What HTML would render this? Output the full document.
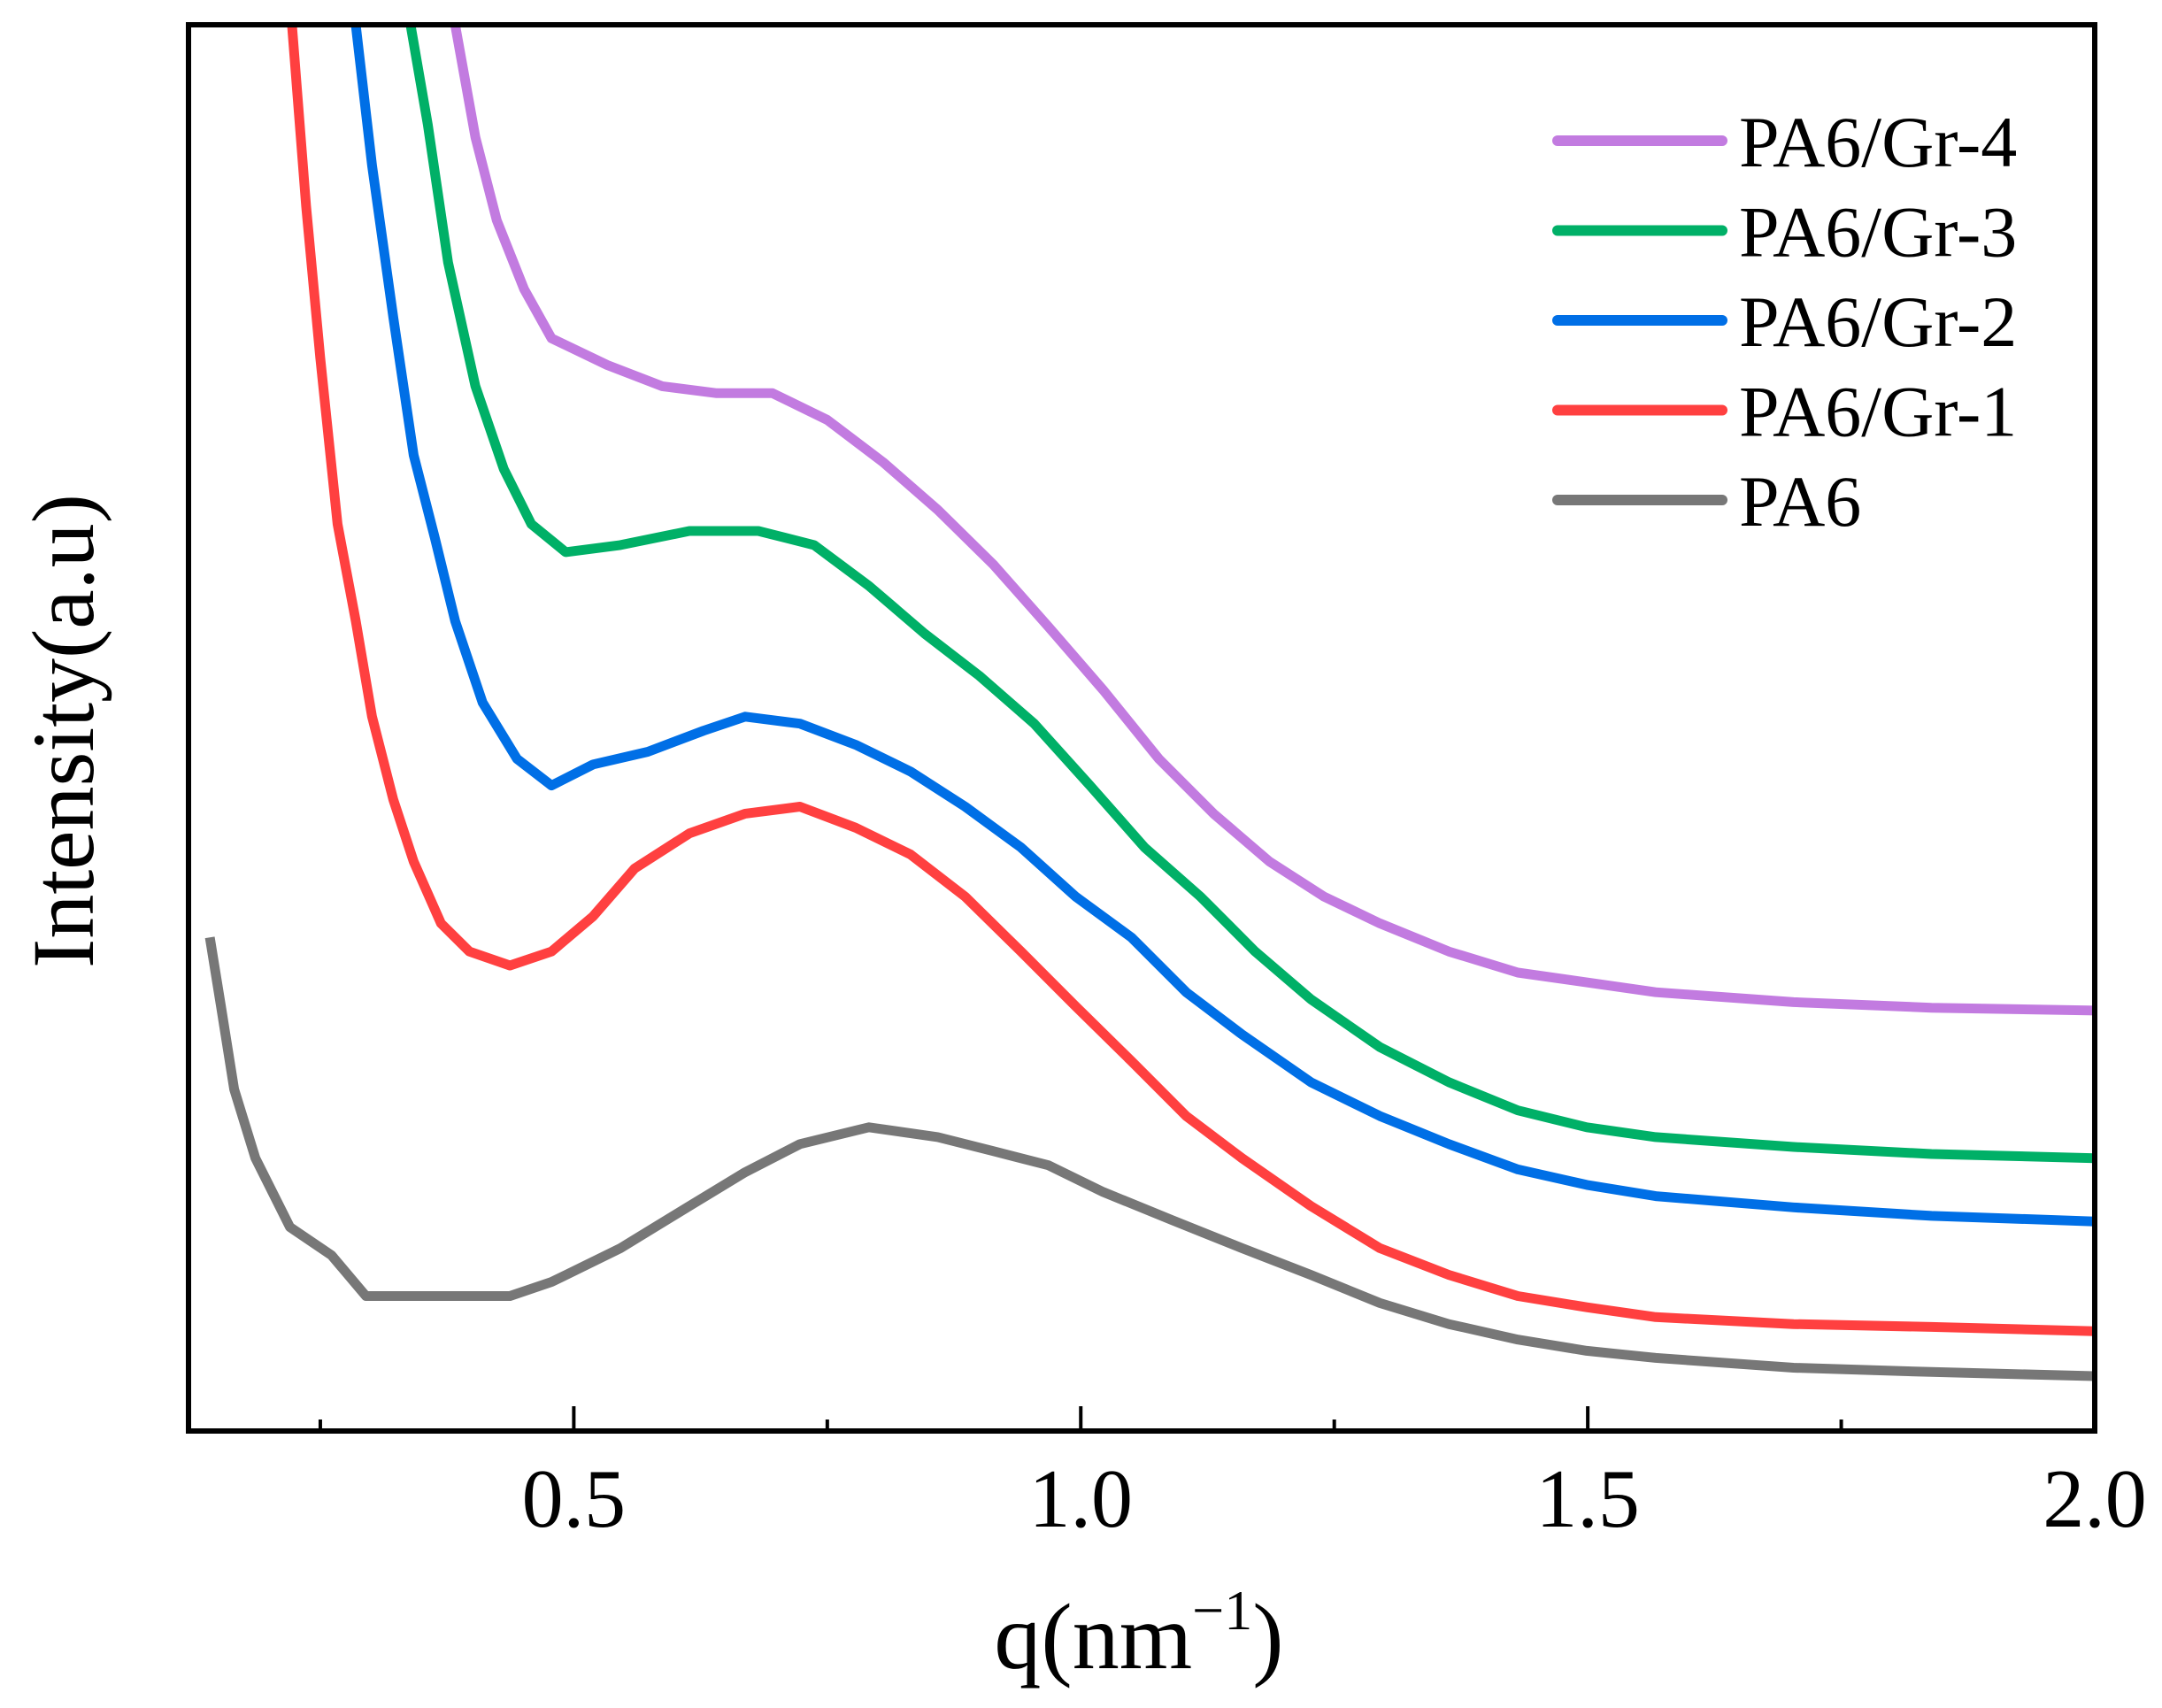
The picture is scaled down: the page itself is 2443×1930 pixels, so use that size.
<!DOCTYPE html>
<html><head><meta charset="utf-8"><style>
html,body{margin:0;padding:0;background:#fff}
svg{display:block}
text{font-family:"Liberation Serif",serif;fill:#000}
</style></head><body>
<svg id="chart" width="2443" height="1930" viewBox="0 0 2443 1930" xmlns="http://www.w3.org/2000/svg">
<defs><clipPath id="clip"><rect x="213" y="28" width="2154" height="1589"/></clipPath></defs>
<g id="series" clip-path="url(#clip)"></g>
<rect x="213" y="28" width="2154" height="1589" fill="none" stroke="#000" stroke-width="6"/>
<g id="ticks"></g>
<text x="1287" y="1885" font-size="106" text-anchor="middle">q(nm<tspan font-size="64" dy="-44">−1</tspan><tspan dy="44">)</tspan></text>
<text transform="translate(105,826) rotate(-90)" font-size="100" text-anchor="middle">Intensity(a.u)</text>
<g id="legend"></g>
</svg>
<script>
const xMin=0.12, xMax=2.0;
const xTickVals=[0.25,0.5,0.75,1.0,1.25,1.5,1.75,2.0];
const xTickLabels=["","0.5","","1.0","","1.5","","2.0"];
const seriesNames=["PA6/Gr-4","PA6/Gr-3","PA6/Gr-2","PA6/Gr-1","PA6"];
const seriesColors=["#c27be0","#00b067","#006fe6","#ff4040","#777777"];
const pa6Q=[0.141,0.152,0.165,0.186,0.220,0.261,0.295,0.342,0.397,0.437,0.478,0.546,0.614,0.669,0.723,0.791,0.859,0.914,0.968,1.022,1.090,1.159,1.227,1.295,1.363,1.431,1.499,1.567,1.703,1.839,2.0];
const pa6I=[35.1,30.2,24.3,19.4,14.5,12.5,9.6,9.6,9.6,9.6,10.6,13.0,16.0,18.4,20.4,21.6,20.9,19.9,18.9,17.0,15.0,13.0,11.1,9.1,7.6,6.5,5.7,5.2,4.5,4.2,3.9];
const gr1Q=[0.222,0.236,0.250,0.267,0.285,0.301,0.322,0.342,0.369,0.397,0.437,0.478,0.519,0.560,0.614,0.669,0.723,0.778,0.832,0.886,0.941,0.995,1.050,1.104,1.159,1.227,1.295,1.363,1.431,1.499,1.567,1.703,1.839,2.0];
const gr1I=[100,87.1,76.3,64.5,57.6,50.8,44.9,40.5,36.1,34.1,33.1,34.1,36.6,40.0,42.5,43.9,44.4,42.9,41.0,38.0,34.1,30.2,26.3,22.4,19.4,16.0,13.0,11.1,9.6,8.8,8.1,7.6,7.4,7.1];
const gr2Q=[0.285,0.301,0.322,0.342,0.363,0.383,0.410,0.444,0.478,0.519,0.573,0.628,0.669,0.723,0.778,0.832,0.886,0.941,0.995,1.050,1.104,1.159,1.227,1.295,1.363,1.431,1.499,1.567,1.703,1.839,2.0];
const gr2I=[100,90.0,79.2,69.4,63.5,57.6,51.8,47.8,45.9,47.4,48.3,49.8,50.8,50.3,48.8,46.9,44.4,41.5,38.0,35.1,31.2,28.2,24.8,22.4,20.4,18.6,17.5,16.7,15.9,15.3,14.9];
const gr3Q=[0.339,0.356,0.376,0.403,0.431,0.458,0.492,0.546,0.614,0.682,0.737,0.791,0.846,0.900,0.954,1.009,1.063,1.118,1.172,1.227,1.295,1.363,1.431,1.499,1.567,1.703,1.839,2.0];
const gr3I=[100,92.9,83.1,74.3,68.4,64.5,62.5,63.0,64.0,64.0,63.0,60.1,56.7,53.7,50.3,45.9,41.5,38.0,34.1,30.7,27.3,24.8,22.8,21.6,20.9,20.2,19.7,19.4];
const gr4Q=[0.383,0.403,0.424,0.451,0.478,0.533,0.587,0.641,0.696,0.750,0.805,0.859,0.914,0.968,1.022,1.077,1.131,1.186,1.240,1.295,1.363,1.431,1.499,1.567,1.703,1.839,2.0];
const gr4I=[100,92.0,86.1,81.2,77.7,75.8,74.3,73.8,73.8,71.9,68.9,65.5,61.6,57.2,52.7,47.8,43.9,40.5,38.0,36.1,34.1,32.6,31.9,31.2,30.5,30.1,29.9];

const L=213,R=2367,T=28,B=1617;
const xs=q=>L+(q-xMin)/(xMax-xMin)*(R-L);
const ys=v=>B-v/100*(B-T);
const NS="http://www.w3.org/2000/svg";
const sg=document.getElementById('series');
const all=[[gr4Q,gr4I],[gr3Q,gr3I],[gr2Q,gr2I],[gr1Q,gr1I],[pa6Q,pa6I]];
const ids=["gr4","gr3","gr2","gr1","pa6"];
for(let k=all.length-1;k>=0;k--){
  const [qa,ia]=all[k];
  const p=document.createElementNS(NS,'polyline');
  p.setAttribute('points',qa.map((q,i)=>xs(q).toFixed(1)+','+ys(ia[i]).toFixed(1)).join(' '));
  p.setAttribute('fill','none');p.setAttribute('stroke',seriesColors[k]);
  p.setAttribute('stroke-width','11');p.setAttribute('stroke-linejoin','round');
  
  
  sg.appendChild(p);
}
const tg=document.getElementById('ticks');
xTickVals.forEach((v,i)=>{
  const x=xs(v), major=xTickLabels[i]!=="";
  const ln=document.createElementNS(NS,'line');
  ln.setAttribute('x1',x);ln.setAttribute('x2',x);ln.setAttribute('y1',B);ln.setAttribute('y2',B-(major?28:13));
  ln.setAttribute('stroke','#000');ln.setAttribute('stroke-width','4');
  
  
  tg.appendChild(ln);
  if(major){
    const t=document.createElementNS(NS,'text');
    t.setAttribute('x',x);t.setAttribute('y',1725);t.setAttribute('font-size','94');t.setAttribute('text-anchor','middle');
    t.textContent=xTickLabels[i];
    
    
    tg.appendChild(t);
  }
});
const lg=document.getElementById('legend');
seriesNames.forEach((n,i)=>{
  const y=159+i*101.5;
  const ln=document.createElementNS(NS,'line');
  ln.setAttribute('x1',1760);ln.setAttribute('x2',1946);ln.setAttribute('y1',y);ln.setAttribute('y2',y);
  ln.setAttribute('stroke',seriesColors[i]);ln.setAttribute('stroke-width','12');ln.setAttribute('stroke-linecap','round');
  
  
  lg.appendChild(ln);
  const t=document.createElementNS(NS,'text');
  t.setAttribute('x',1965);t.setAttribute('y',y+29);t.setAttribute('font-size','82');
  t.textContent=n;
  
  
  lg.appendChild(t);
});
</script>
</body></html>
